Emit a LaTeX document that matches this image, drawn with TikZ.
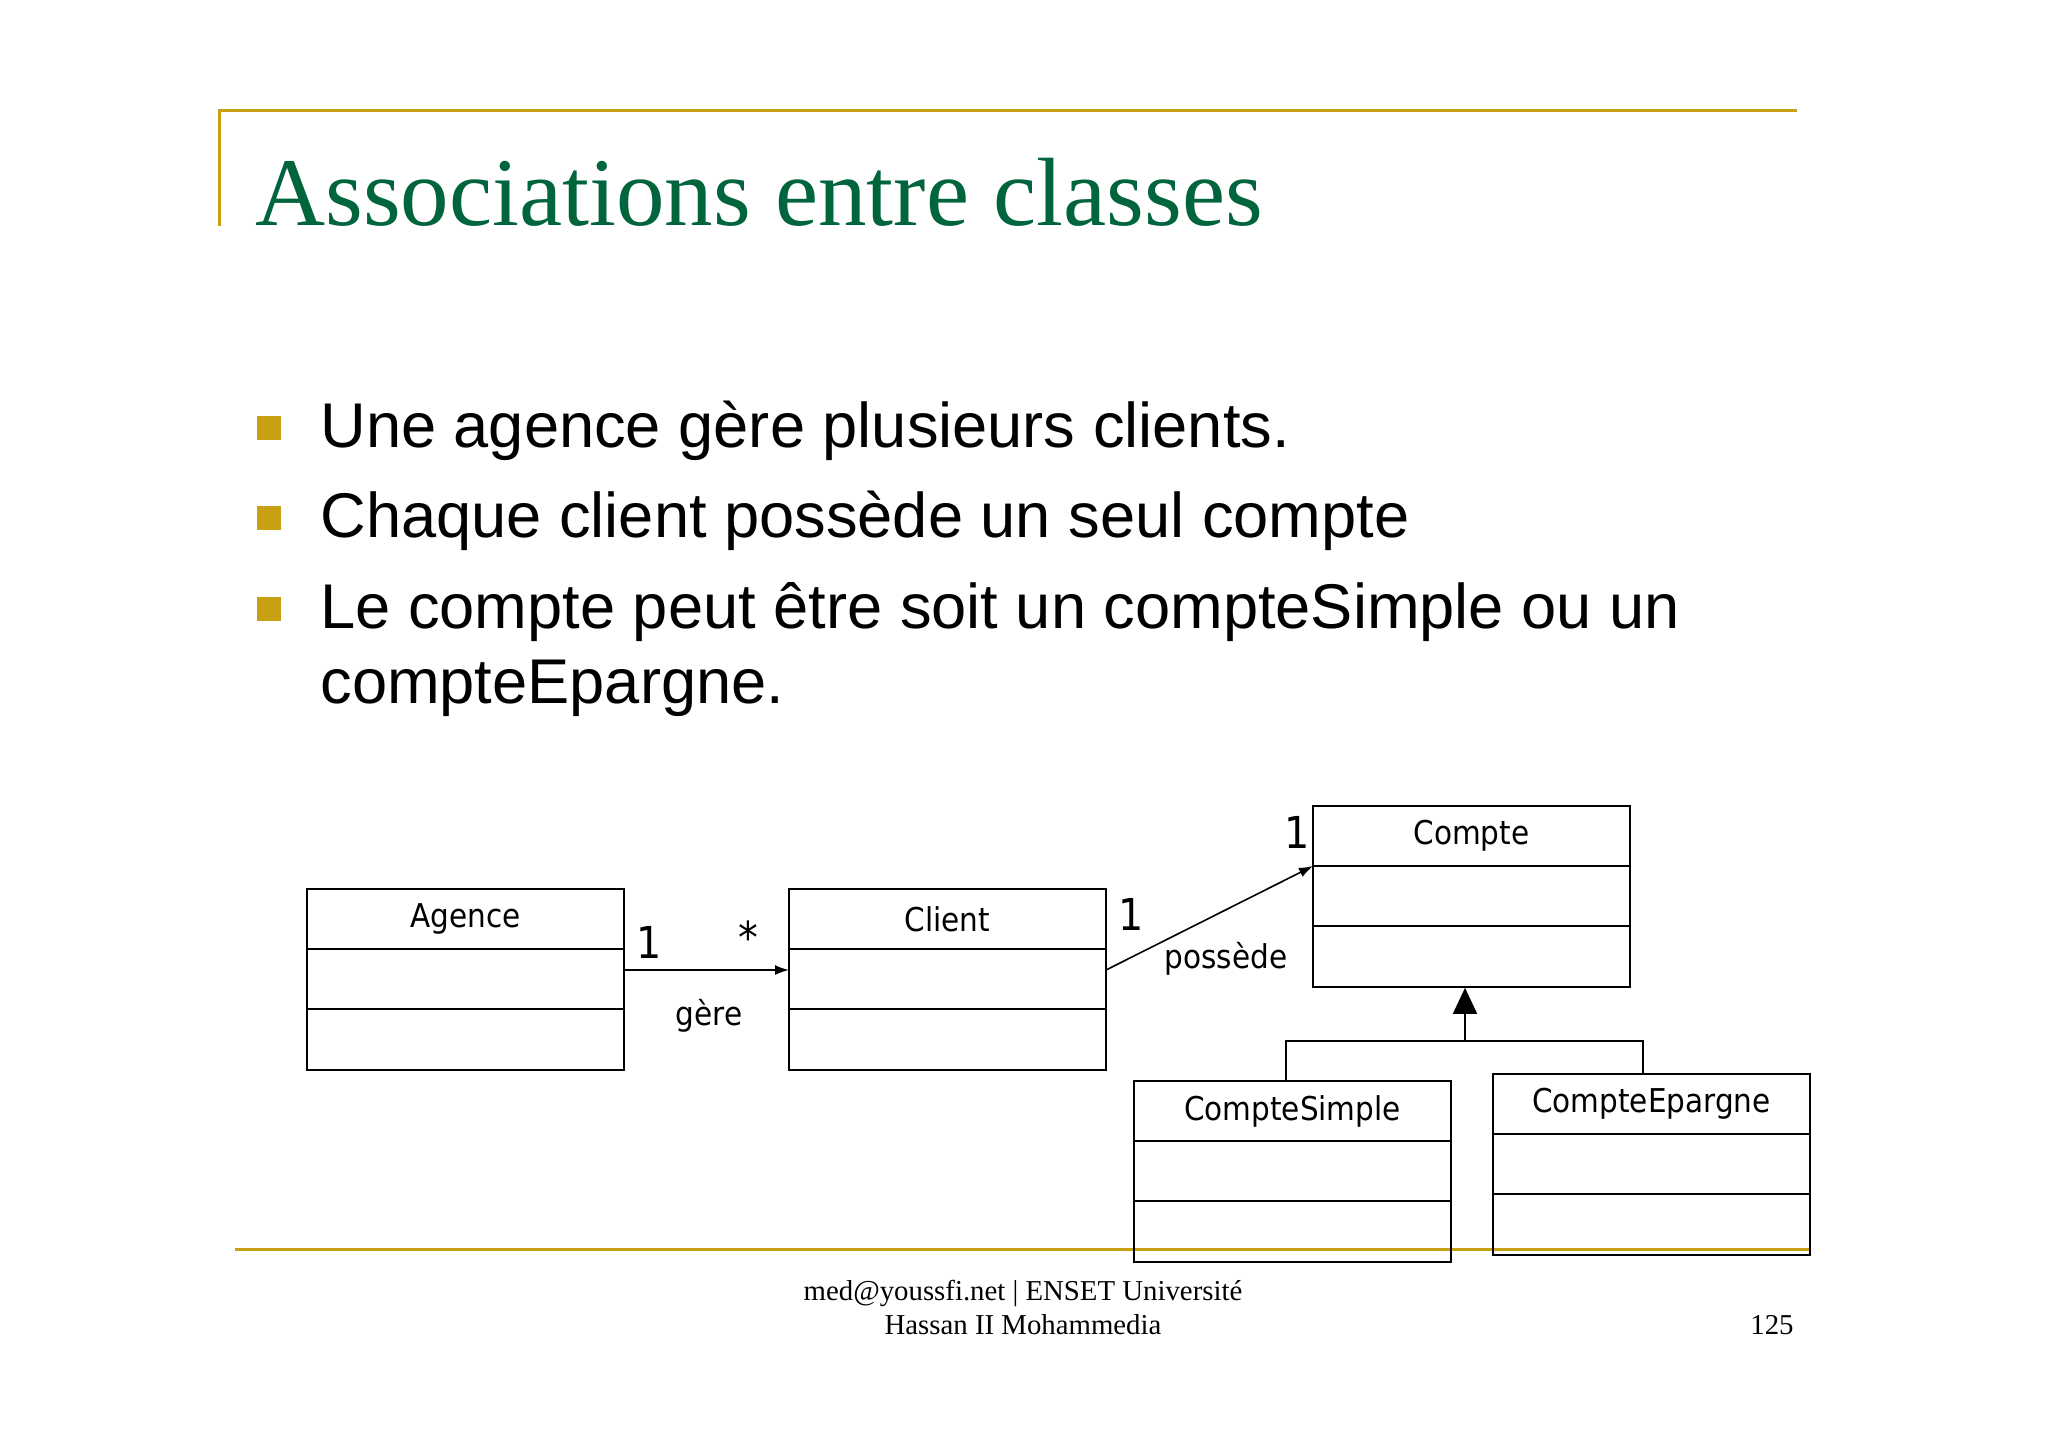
\documentclass[tikz,border=0pt]{standalone}
\usepackage{fontspec}
\setmainfont{Liberation Serif}
\newfontfamily\arial{Liberation Sans}
\newfontfamily\verd{DejaVu Sans Condensed}
\usetikzlibrary{arrows.meta}
\definecolor{gold}{RGB}{200,160,20}
\definecolor{titlegreen}{RGB}{0,100,60}
\tikzset{x=0.5pt,y=-0.5pt,
 cls/.style={draw,line width=0.8pt,minimum width=158.5pt,minimum height=90.5pt,inner sep=0pt},
 clsname/.style={font=\verd\fontsize{16.4}{18}\selectfont},
 mult/.style={font=\verd\fontsize{22}{24}\selectfont},
 lbl/.style={font=\verd\fontsize{16.4}{18}\selectfont},
 bul/.style={anchor=base west,font=\arial\fontsize{31.6}{38}\selectfont},
 conn/.style={line width=0.8pt}}
\newcommand\umlcls[4]{% name, left, top, label
 \node[cls] (#1) at (#2+158.5,#3+90.5) {};
 \draw[line width=0.8pt] (#2,#3+60) -- (#2+317,#3+60) (#2,#3+120) -- (#2+317,#3+120);
 \node[clsname] (#1n) at (#2+158.5,#3+30) {#4};}
\begin{document}
\begin{tikzpicture}
\useasboundingbox (0,0) rectangle (2048,1447);
\fill[white] (0,0) rectangle (2048,1447);
% header
\draw[gold,line width=1.5pt] (219,226) -- (219,110) -- (1797,110);
\node[anchor=base west,inner sep=0pt,text=titlegreen,font=\fontsize{48.5}{54}\selectfont] (title) at (255,225) {Associations entre classes};
% bullets
\foreach \n/\y in {1/447,2/537,3/628}{
 \fill[gold] (257,\y-31) rectangle (281,\y-7);}
\node[bul,inner sep=0pt] (b1) at (320,447) {Une agence gère plusieurs clients.};
\node[bul,inner sep=0pt] (b2) at (320,537) {Chaque client possède un seul compte};
\node[bul,inner sep=0pt] (b3) at (320,628) {Le compte peut être soit un compteSimple ou un};
\node[bul,inner sep=0pt] (b4) at (320,703) {compteEpargne.};
% bottom line and footer
\draw[gold,line width=1.5pt] (235,1249) -- (1810,1249);
\node[anchor=base,inner sep=0pt,font=\fontsize{14.4}{16}\selectfont] (f1) at (1023,1300) {med@youssfi.net | ENSET Université};
\node[anchor=base,inner sep=0pt,font=\fontsize{14.4}{16}\selectfont] (f2) at (1023,1334) {Hassan II Mohammedia};
\node[anchor=base,inner sep=0pt,font=\fontsize{14.4}{16}\selectfont] (pg) at (1772,1334) {125};
% classes
\umlcls{agence}{307}{889}{Agence}
\umlcls{client}{789}{889}{Client}
\umlcls{compte}{1313}{806}{Compte}
\umlcls{simple}{1134}{1081}{CompteSimple}
\umlcls{epargne}{1493}{1074}{CompteEpargne}
% associations
\coordinate (a1) at (624,970); \coordinate (c1) at (789,970);
\draw[conn,-{Latex[length=7pt,width=5pt]}] (a1) -- (c1);
\node[mult] (m1) at (649,942) {1};
\node[mult] (m2) at (748,937) {*};
\node[lbl] (g) at (709,1016) {gère};
\coordinate (c2) at (1106,970); \coordinate (k1) at (1313,866);
\draw[conn,-{Latex[length=7pt,width=5pt]}] (c2) -- (k1);
\node[mult] (m3) at (1131,914) {1};
\node[mult] (m4) at (1297,832) {1};
\node[lbl] (p) at (1226,959) {possède};
% inheritance
\coordinate (j) at (1465,1041);
\draw[conn,-{Triangle[length=13pt,width=12pt]}] (j) -- (compte.south -| j);
\draw[conn] (simple.north -| 1286,0) -- (1286,1041) -- (1643,1041) -- (epargne.north -| 1643,0);
\end{tikzpicture}
\end{document}
